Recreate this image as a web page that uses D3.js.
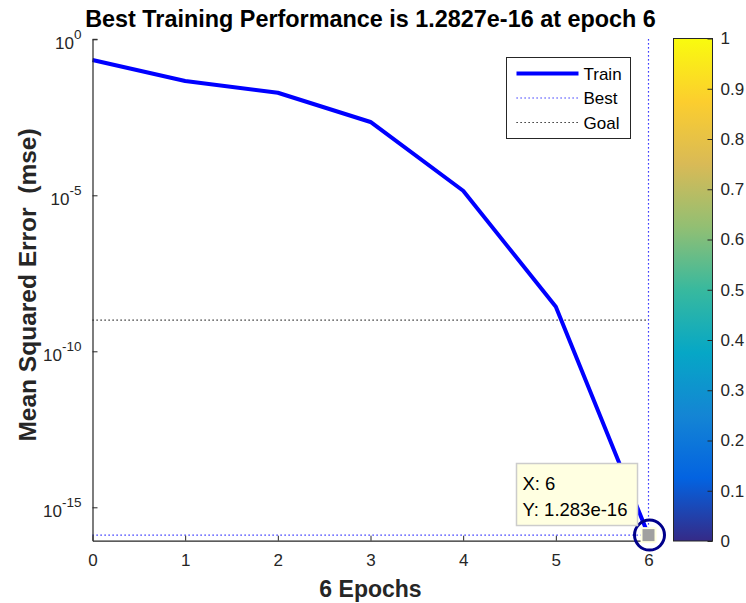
<!DOCTYPE html>
<html>
<head>
<meta charset="utf-8">
<script src="https://cdn.jsdelivr.net/npm/d3@7"></script>
<style>
  html, body { margin: 0; padding: 0; background: #fff; }
  svg { display: block; font-family: "Liberation Sans", Arial, Helvetica, sans-serif; }
</style>
</head>
<body>
<svg id="chart" width="746" height="603"></svg>
<script>
// Training record
const epochs = [0, 1, 2, 3, 4, 5, 6];
const trainPerf = [0.217, 0.046, 0.0194, 0.00224, 1.40e-5, 2.69e-9, 1.2827e-16];
const bestEpoch = 6;
const bestPerf = 1.2827e-16;
const goalPerf = 1e-9;

// Axis ticks
const xTicks = [0, 1, 2, 3, 4, 5, 6];
const yTickExponents = [0, -5, -10, -15];
const colorbarTicks = [0, 0.1, 0.2, 0.3, 0.4, 0.5, 0.6, 0.7, 0.8, 0.9, 1];

// Parula colour stops for the colorbar
const parulaStops = ["#352a87", "#0363e1", "#1485d4", "#06a7c6", "#38b99e",
                     "#92bf73", "#d9ba56", "#fcce2e", "#f9fb0e"];

const svg = d3.select("#chart");
const axisColor = "#262626";
const tickFont = 17;

const plot = { left: 92.5, right: 648.5, top: 39.3, bottom: 540.7 };

const x = d3.scaleLinear().domain([0, 6]).range([plot.left, plot.right]);
const y = d3.scaleLog().domain([8.5e-17, 1]).range([plot.bottom, plot.top]);

// Title
svg.append("text")
  .attr("x", (plot.left + plot.right) / 2)
  .attr("y", 27)
  .attr("text-anchor", "middle")
  .attr("font-size", 23.4)
  .attr("font-weight", "bold")
  .attr("fill", "#000")
  .text(`Best Training Performance is ${bestPerf.toExponential(4)} at epoch ${bestEpoch}`);

// Reference lines: goal and best
svg.append("line")
  .attr("x1", x(0)).attr("x2", x(6))
  .attr("y1", y(goalPerf)).attr("y2", y(goalPerf))
  .attr("stroke", "#000").attr("stroke-width", 1.2)
  .attr("stroke-dasharray", "1.2,2.8");

svg.append("line")
  .attr("x1", x(0)).attr("x2", x(6))
  .attr("y1", y(bestPerf)).attr("y2", y(bestPerf))
  .attr("stroke", "#0000ff").attr("stroke-width", 1.2)
  .attr("stroke-dasharray", "1.2,2.8");

svg.append("line")
  .attr("x1", x(bestEpoch)).attr("x2", x(bestEpoch))
  .attr("y1", plot.top).attr("y2", plot.bottom)
  .attr("stroke", "#0000ff").attr("stroke-width", 1.2)
  .attr("stroke-dasharray", "1.2,2.8");

// Train curve
const line = d3.line().x((d, i) => x(epochs[i])).y(d => y(d));
svg.append("path")
  .datum(trainPerf)
  .attr("d", line)
  .attr("fill", "none")
  .attr("stroke", "#0000ff")
  .attr("stroke-width", 4)
  .attr("stroke-linejoin", "round");

// X axis
const xAxis = svg.append("g")
  .attr("transform", `translate(0,${plot.bottom})`)
  .call(d3.axisBottom(x).tickValues(xTicks).tickSizeInner(-5).tickSizeOuter(0)
        .tickPadding(13).tickFormat(d3.format("d")));
xAxis.select(".domain").attr("stroke", axisColor).attr("stroke-width", 1.2);
xAxis.selectAll(".tick line").attr("stroke", axisColor);
xAxis.selectAll(".tick text").attr("fill", axisColor).attr("font-size", tickFont)
  .attr("font-family", "Liberation Sans, Arial, sans-serif");

// Y axis (log, labels as powers of ten)
const yAxis = svg.append("g")
  .attr("transform", `translate(${plot.left},0)`)
  .call(d3.axisLeft(y).tickValues(yTickExponents.map(e => Math.pow(10, e)))
        .tickSizeInner(-5).tickSizeOuter(0).tickPadding(11).tickFormat(""));
yAxis.select(".domain").attr("stroke", axisColor).attr("stroke-width", 1.2);
yAxis.selectAll(".tick line").attr("stroke", axisColor);
yAxis.selectAll(".tick text").each(function (d, i) {
  const t = d3.select(this)
    .attr("fill", axisColor)
    .attr("font-size", tickFont)
    .attr("font-family", "Liberation Sans, Arial, sans-serif")
    .attr("dy", "0.55em");
  t.append("tspan").text("10");
  t.append("tspan").attr("font-size", 13.5).attr("dy", "-0.75em").text(yTickExponents[i]);
});
// top tick at 10^0 drawn at the axis top edge
svg.append("line")
  .attr("x1", plot.left).attr("x2", plot.left + 5)
  .attr("y1", plot.top).attr("y2", plot.top)
  .attr("stroke", axisColor);

// Axis titles
svg.append("text")
  .attr("x", (plot.left + plot.right) / 2)
  .attr("y", 597)
  .attr("text-anchor", "middle")
  .attr("font-size", 23)
  .attr("font-weight", "bold")
  .attr("fill", axisColor)
  .text(`${epochs.length - 1} Epochs`);

svg.append("text")
  .attr("transform", `translate(36,${(plot.top + plot.bottom) / 2 - 5}) rotate(-90)`)
  .attr("text-anchor", "middle")
  .attr("font-size", 24.5)
  .attr("font-weight", "bold")
  .attr("fill", axisColor)
  .attr("xml:space", "preserve")
  .text("Mean Squared Error  (mse)");

// Legend
const legend = svg.append("g").attr("transform", "translate(506.5,57.5)");
legend.append("rect")
  .attr("width", 124).attr("height", 81)
  .attr("fill", "#fff").attr("stroke", "#262626").attr("stroke-width", 1);
const legendItems = [
  { label: "Train", color: "#0000ff", width: 4, dash: null },
  { label: "Best", color: "#0000ff", width: 1.2, dash: "1.2,2.8" },
  { label: "Goal", color: "#000", width: 1.2, dash: "1.2,2.8" }
];
legendItems.forEach((item, i) => {
  const cy = 16 + i * 24.5;
  legend.append("line")
    .attr("x1", 10).attr("x2", 72).attr("y1", cy).attr("y2", cy)
    .attr("stroke", item.color).attr("stroke-width", item.width)
    .attr("stroke-dasharray", item.dash);
  legend.append("text")
    .attr("x", 77).attr("y", cy).attr("dy", "0.36em")
    .attr("font-size", 17).attr("fill", "#000")
    .text(item.label);
});

// Colorbar
const cb = { left: 673.5, right: 712.5, top: 38.5, bottom: 541 };
const defs = svg.append("defs");
const grad = defs.append("linearGradient").attr("id", "parula")
  .attr("x1", 0).attr("y1", 1).attr("x2", 0).attr("y2", 0);
parulaStops.forEach((c, i) => {
  grad.append("stop").attr("offset", i / (parulaStops.length - 1)).attr("stop-color", c);
});
svg.append("rect")
  .attr("x", cb.left).attr("y", cb.top)
  .attr("width", cb.right - cb.left).attr("height", cb.bottom - cb.top)
  .attr("fill", "url(#parula)")
  .attr("stroke", axisColor).attr("stroke-width", 1);
const cScale = d3.scaleLinear().domain([0, 1]).range([cb.bottom, cb.top]);
const cAxis = svg.append("g")
  .attr("transform", `translate(${cb.right},0)`)
  .call(d3.axisRight(cScale).tickValues(colorbarTicks).tickSizeInner(-5).tickSizeOuter(0)
        .tickPadding(8).tickFormat(d => d3.format("")(+d.toFixed(1))));
cAxis.select(".domain").remove();
cAxis.selectAll(".tick line").attr("stroke", axisColor);
cAxis.selectAll(".tick text").attr("fill", axisColor).attr("font-size", tickFont)
  .attr("font-family", "Liberation Sans, Arial, sans-serif");

// Data tip on the best point
const bx = x(bestEpoch), by = y(bestPerf);
svg.append("rect")
  .attr("x", bx - 8).attr("y", by - 8).attr("width", 16).attr("height", 16)
  .attr("fill", "#ffffe1");
svg.append("rect")
  .attr("x", bx - 6).attr("y", by - 6).attr("width", 12).attr("height", 12)
  .attr("fill", "#a0a0a0");
svg.append("circle")
  .attr("cx", bx + 1).attr("cy", by).attr("r", 15)
  .attr("fill", "none").attr("stroke", "#00008b").attr("stroke-width", 3);

const tip = svg.append("g").attr("transform", "translate(516.5,463.5)");
tip.append("rect")
  .attr("width", 121).attr("height", 62)
  .attr("fill", "#ffffe1").attr("stroke", "#cccccc").attr("stroke-width", 1.5);
tip.append("text").attr("x", 6).attr("y", 26).attr("font-size", 18.5).attr("fill", "#000")
  .text(`X: ${bestEpoch}`);
tip.append("text").attr("x", 6).attr("y", 52).attr("font-size", 18.5).attr("fill", "#000")
  .text(`Y: ${bestPerf.toExponential(3)}`);
</script>
</body>
</html>
